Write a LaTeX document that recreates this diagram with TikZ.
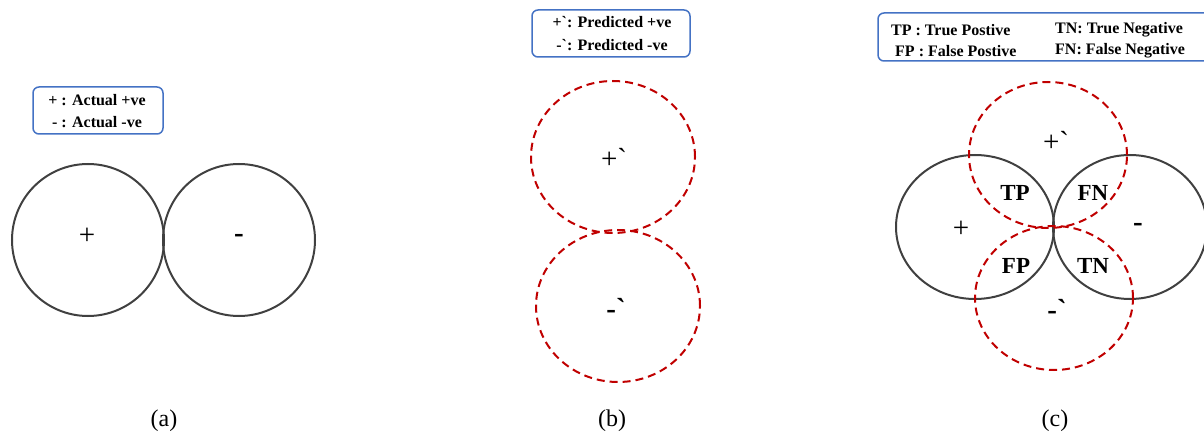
\documentclass[tikz,border=0pt]{standalone}
\usepackage{fontspec}
\setmainfont{Liberation Serif}
\usetikzlibrary{shapes.geometric}
\definecolor{boxblue}{HTML}{4472C4}
\definecolor{dred}{HTML}{C00000}
\definecolor{cgray}{HTML}{404040}
\newcommand{\tck}{\textasciigrave}
\tikzset{
  actual/.style={ellipse, draw=cgray, line width=2pt, inner sep=0pt},
  predicted/.style={ellipse, draw=dred, line width=2pt, dash pattern=on 8pt off 5pt, inner sep=0pt},
  legend/.style={draw=boxblue, line width=1.5pt, rounded corners=6pt},
  legtext/.style={font=\fontsize{16}{18}\selectfont\bfseries, inner sep=0pt},
  sym/.style={font=\fontsize{29}{31}\selectfont, inner sep=0pt},
  reg/.style={font=\fontsize{23}{25}\selectfont\bfseries, inner sep=0pt},
  captext/.style={font=\fontsize{24}{26}\selectfont, inner sep=0pt}
}
\begin{document}
\begin{tikzpicture}[x=1pt,y=-1pt]
\useasboundingbox (0,0) rectangle (1204,438);
% ---------- (a)
\node[legend, minimum width=130pt, minimum height=47pt] (boxa) at (98,110.5) {};
\node[legtext] (la1) at (97,100) {+ : Actual +ve};
\node[legtext] (la2) at (97,122) {- : Actual -ve};
\node[actual, minimum width=152pt, minimum height=152pt] (ap) at (88,240) {};
\node[actual, minimum width=152pt, minimum height=152pt] (an) at (239,240) {};
\node[sym] (tap) at (87,236) {+};
\node[sym] (tan) at (239,238) {\bfseries -};
\node[captext] (capa) at (164,421) {(a)};
% ---------- (b)
\node[legend, minimum width=158pt, minimum height=47pt] (boxb) at (611,33.5) {};
\node[legtext] (lb1) at (612,22) {+\tck: Predicted +ve};
\node[legtext] (lb2) at (612,45) {-\tck: Predicted -ve};
\node[predicted, minimum width=164pt, minimum height=152pt] (bp) at (613,157) {};
\node[predicted, minimum width=164pt, minimum height=152pt] (bn) at (618,306) {};
\node[sym] (tbp) at (614,158) {+\tck};
\node[sym] (tbn) at (616,308) {\bfseries -\tck};
\node[captext] (capb) at (612,421) {(b)};
% ---------- (c)
\begin{scope}
\clip (0,0) rectangle (1204,438);
\node[legend, minimum width=334pt, minimum height=48pt] (boxc) at (1045,37) {};
\node[actual, minimum width=158pt, minimum height=144pt] (cp) at (975,227) {};
\node[actual, minimum width=154pt, minimum height=144pt] (cn) at (1130,227) {};
\end{scope}
\node[legtext, anchor=west] (lc1) at (891,30) {TP : True Postive};
\node[legtext, anchor=west] (lc2) at (895,51) {FP : False Postive};
\node[legtext, anchor=west] (lc3) at (1055,30) {TN: True Negative};
\node[legtext, anchor=west] (lc4) at (1055,51) {FN: False Negative};
\node[predicted, minimum width=158pt, minimum height=146pt] (dp) at (1048,155) {};
\node[predicted, minimum width=158pt, minimum height=144pt] (dn) at (1054,298) {};
\node[sym] (tcp) at (1056,141) {+\tck};
\node[sym] (tcn) at (1057,309) {\bfseries -\tck};
\node[sym] (tcpa) at (961,229) {+};
\node[sym] (tcna) at (1138,227) {\bfseries -};
\node[reg] (tp) at (1015,193) {TP};
\node[reg] (fn) at (1093,193) {FN};
\node[reg] (fp) at (1016,266) {FP};
\node[reg] (tn) at (1093,266) {TN};
\node[captext] (capc) at (1055,421) {(c)};
\end{tikzpicture}
\end{document}
